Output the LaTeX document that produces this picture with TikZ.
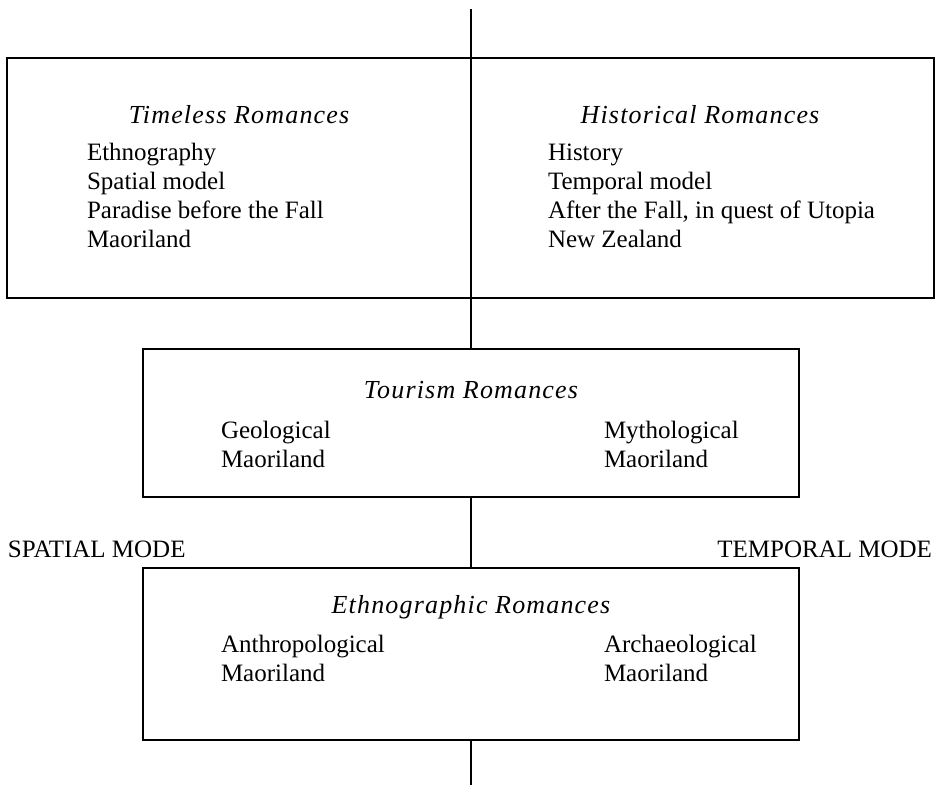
\documentclass[tikz,border=0pt]{standalone}
\usepackage{fontspec}
\setmainfont{Liberation Serif}
\begin{document}
\begin{tikzpicture}[x=1pt,y=-1pt,
  box/.style={draw=black,line width=1.3pt,inner sep=0pt,outer sep=0pt},
  spine/.style={draw=black,line width=2.5pt},
  txt/.style={inner sep=0pt,outer sep=0pt,anchor=base west,font=\fontsize{25}{29}\selectfont},
  ttl/.style={inner sep=0pt,outer sep=0pt,anchor=base,font=\fontsize{26}{29}\selectfont\itshape\addfontfeature{LetterSpace=4.5}},
  txtr/.style={inner sep=0pt,outer sep=0pt,anchor=base east,font=\fontsize{25}{29}\selectfont}]
\useasboundingbox[fill=white] (0,0) rectangle (935,785);
% boxes
\node[box,minimum width=464pt,minimum height=240pt] (tl) at (239,178) {};
\node[box,minimum width=463pt,minimum height=240pt] (tr) at (702.5,178) {};
\node[box,minimum width=656pt,minimum height=148pt] (tour) at (471,423) {};
\node[box,minimum width=656pt,minimum height=172pt] (eth) at (471,654) {};
% spine
\coordinate (top) at (471,9);
\coordinate (bot) at (471,785);
\draw[spine] (top) -- (tl.north east) -- (tl.south east) -- (tour.north);
\draw[spine] (tour.south) -- (eth.north);
\draw[spine] (eth.south) -- (bot);
% timeless
\node[ttl] (tlt) at (239,123) {Timeless Romances};
\node[txt] (tl1) at (87,160) {Ethnography};
\node[txt] (tl2) at (87,189) {Spatial model};
\node[txt] (tl3) at (87,218) {Paradise before the Fall};
\node[txt] (tl4) at (87,247) {Maoriland};
% historical
\node[ttl] (trt) at (700,123) {Historical Romances};
\node[txt] (tr1) at (548,160) {History};
\node[txt] (tr2) at (548,189) {Temporal model};
\node[txt] (tr3) at (548,218) {After the Fall, in quest of Utopia};
\node[txt] (tr4) at (548,247) {New Zealand};
% tourism
\node[ttl] (tot) at (471,398) {Tourism Romances};
\node[txt] (to1) at (221,438) {Geological};
\node[txt] (to2) at (221,467) {Maoriland};
\node[txt] (to3) at (604,438) {Mythological};
\node[txt] (to4) at (604,467) {Maoriland};
% modes
\node[txt] (sm) at (8,557) {SPATIAL MODE};
\node[txtr] (tm) at (932,557) {TEMPORAL MODE};
% ethnographic
\node[ttl] (ett) at (471,613) {Ethnographic Romances};
\node[txt] (et1) at (221,652) {Anthropological};
\node[txt] (et2) at (221,681) {Maoriland};
\node[txt] (et3) at (604,652) {Archaeological};
\node[txt] (et4) at (604,681) {Maoriland};
\end{tikzpicture}
\end{document}
